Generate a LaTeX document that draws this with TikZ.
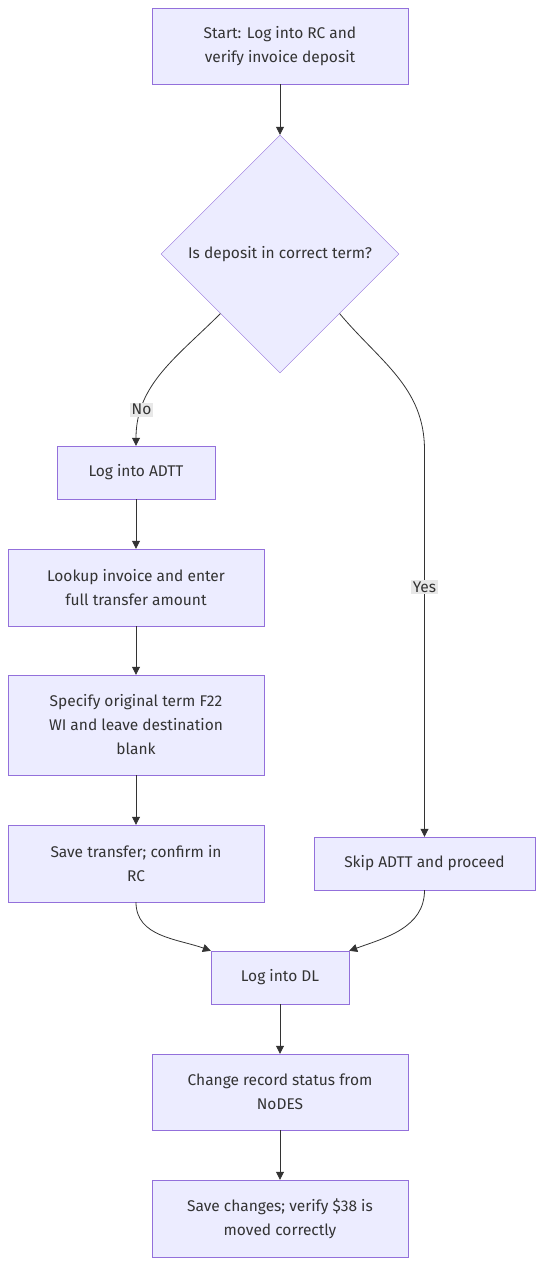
\documentclass[tikz,border=0pt]{standalone}
\usepackage{fontspec}
\setmainfont{Fira Sans}
\usetikzlibrary{shapes.geometric,arrows.meta}
\definecolor{boxfill}{HTML}{ECECFF}
\definecolor{boxline}{HTML}{9370DB}
\definecolor{flowline}{HTML}{333333}
\definecolor{lblfill}{HTML}{E8E8E8}

\begin{document}
\begin{tikzpicture}[x=1pt,y=-1pt,
    font=\fontsize{15.5}{24}\selectfont,
    stepbox/.style={draw=boxline,fill=boxfill,text=flowline,align=center,inner sep=0pt},
    decbox/.style={diamond,draw=boxline,fill=boxfill,text=flowline,inner sep=0pt,minimum width=238pt,minimum height=238pt,aspect=1},
    flow/.style={draw=flowline,line width=0.8pt,-{Triangle[length=8pt,width=8pt]}},
    lbl/.style={fill=lblfill,text=flowline,inner sep=1.5pt}]

% frame of the page
\useasboundingbox (0,0) rectangle (551,1283);

% the steps
\node[stepbox,minimum width=256pt,minimum height=76pt] (start) at (280,46) {Start: Log into RC and\\verify invoice deposit};
\node[decbox] (dec) at (280,254) {Is deposit in correct term?};
\node[stepbox,minimum width=158pt,minimum height=53pt] (adtt) at (136,472.5) {Log into ADTT};
\node[stepbox,minimum width=256pt,minimum height=77pt] (lookup) at (136,587.5) {Lookup invoice and enter\\full transfer amount};
\node[stepbox,minimum width=256pt,minimum height=100pt] (spec) at (136,725) {Specify original term F22\\WI and leave destination\\blank};
\node[stepbox,minimum width=256pt,minimum height=77pt] (savetr) at (136,863.5) {Save transfer; confirm in\\RC};
\node[stepbox,minimum width=221pt,minimum height=53pt] (skip) at (424.5,863.5) {Skip ADTT and proceed};
\node[stepbox,minimum width=138pt,minimum height=53pt] (dl) at (280,977.5) {Log into DL};
\node[stepbox,minimum width=256pt,minimum height=76pt] (change) at (280,1092) {Change record status from\\NoDES};
\node[stepbox,minimum width=256pt,minimum height=77pt] (savech) at (280,1218.5) {Save changes; verify \$38 is\\moved correctly};

\coordinate (yesbend) at (424.5,450);

% the connectors
\draw[flow] (start) -- (dec);
\draw[flow] (dec.south west) to[out=-135,in=90] node[lbl,pos=0.78]{No} (adtt.north);
\draw[flow] (dec.south east) to[out=-50,in=90] (yesbend) -- node[lbl,pos=0.354]{Yes} (skip.north);
\draw[flow] (adtt) -- (lookup);
\draw[flow] (lookup) -- (spec);
\draw[flow] (spec) -- (savetr);
\draw[flow] (savetr.south) to[out=-90,in=160] (dl.north west);
\draw[flow] (skip.south) to[out=-90,in=20] (dl.north east);
\draw[flow] (dl) -- (change);
\draw[flow] (change) -- (savech);

\end{tikzpicture}
\end{document}
